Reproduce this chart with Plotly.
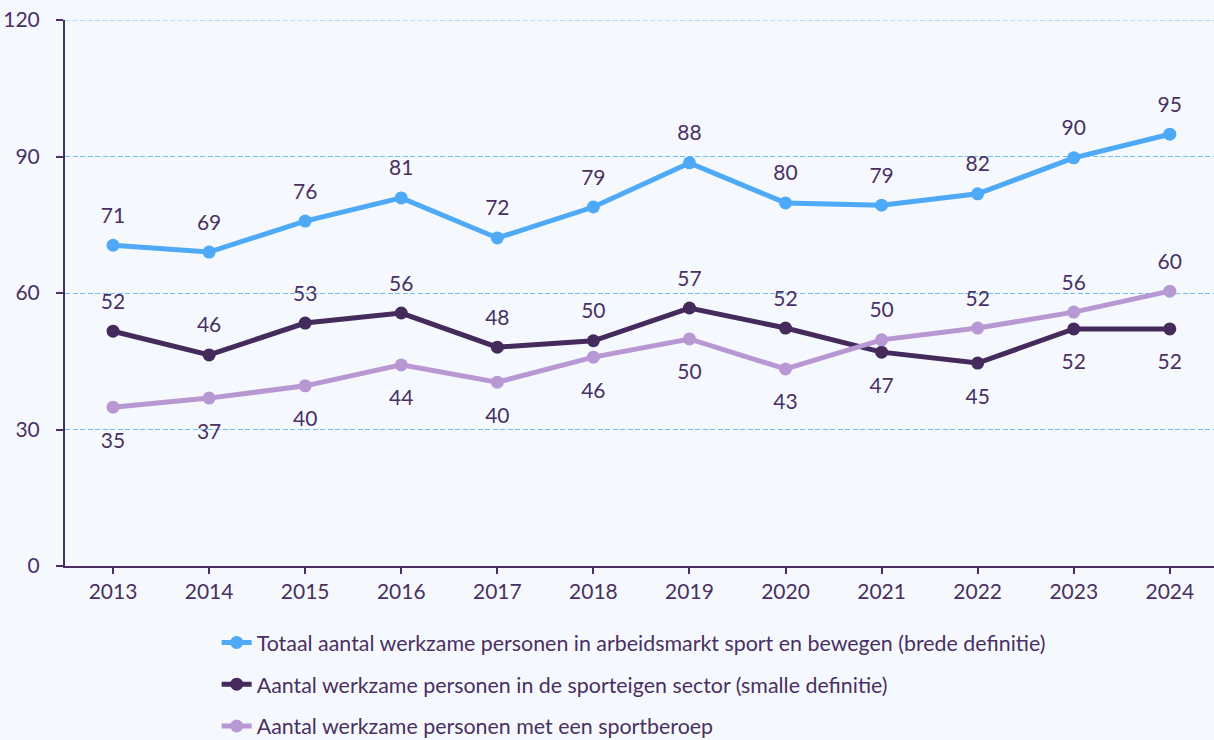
import plotly.graph_objects as go

years = ["2013", "2014", "2015", "2016", "2017", "2018", "2019", "2020", "2021", "2022", "2023", "2024"]
totaal = [70.5, 69.0, 75.8, 80.9, 72.1, 78.9, 88.6, 79.8, 79.3, 81.8, 89.7, 94.9]
sporteigen = [51.6, 46.4, 53.4, 55.6, 48.1, 49.5, 56.7, 52.3, 47.0, 44.6, 52.1, 52.1]
sportberoep = [34.9, 36.9, 39.6, 44.2, 40.4, 45.9, 49.9, 43.3, 49.7, 52.3, 55.8, 60.4]

totaal_lbl = [71, 69, 76, 81, 72, 79, 88, 80, 79, 82, 90, 95]
sporteigen_lbl = [52, 46, 53, 56, 48, 50, 57, 52, 47, 45, 52, 52]
sportberoep_lbl = [35, 37, 40, 44, 40, 46, 50, 43, 50, 52, 56, 60]

y_ticks = [0, 30, 60, 90, 120]

# label placement
totaal_pos = ["top"] * 12
sporteigen_pos = ["top"] * 8 + ["bottom"] * 4
sportberoep_pos = ["bottom"] * 8 + ["top"] * 4

names = [
    "Totaal aantal werkzame personen in arbeidsmarkt sport en bewegen (brede definitie)",
    "Aantal werkzame personen in de sporteigen sector (smalle definitie)",
    "Aantal werkzame personen met een sportberoep",
]
colors = ["#4ea9f7", "#452a5c", "#b898d2"]
text_color = "#4a3062"
grid_color = "#6fc2f8"
bg = "#f5f9fe"
font_family = "Lato, 'Open Sans', sans-serif"

fig = go.Figure()
series = [(totaal, totaal_lbl, totaal_pos), (sporteigen, sporteigen_lbl, sporteigen_pos),
          (sportberoep, sportberoep_lbl, sportberoep_pos)]
for i, (vals, lbls, pos) in enumerate(series):
    fig.add_trace(go.Scatter(
        x=years, y=vals, mode="lines+markers", name=names[i],
        line=dict(color=colors[i], width=5),
        marker=dict(color=colors[i], size=13),
        legendgroup=str(i),
    ))
for i, (vals, lbls, pos) in enumerate(series):
    for side, msize in (("top", 26), ("bottom", 38)):
        fig.add_trace(go.Scatter(
            x=years,
            y=[v if p == side else None for v, p in zip(vals, pos)],
            mode="markers+text",
            text=[str(l) if p == side else "" for l, p in zip(lbls, pos)],
            textposition=side + " center", marker=dict(size=msize, opacity=0),
            textfont=dict(size=21, color=text_color, family=font_family),
            showlegend=False, hoverinfo="skip", cliponaxis=False,
        ))

# top gridline (plotly drops the gridline at the range edge)
fig.add_shape(type="line", xref="paper", x0=0, x1=1, yref="y", y0=y_ticks[-1], y1=y_ticks[-1],
              line=dict(color=grid_color, width=1, dash="5px,2.5px"), layer="below")

fig.update_layout(
    width=1214, height=740,
    margin=dict(l=65, r=0, t=20, b=174),
    paper_bgcolor=bg, plot_bgcolor=bg,
    font=dict(family=font_family, color=text_color, size=21),
    showlegend=True,
    legend=dict(
        orientation="v", xref="paper", x=0.132, xanchor="left",
        yref="container", y=0.1595, yanchor="top",
        font=dict(size=21.4, color=text_color, family=font_family),
        tracegroupgap=11, bgcolor="rgba(0,0,0,0)",
    ),
    xaxis=dict(
        type="category", range=[-0.5, 11.46],
        showline=True, linecolor=text_color, linewidth=2,
        ticks="outside", ticklen=6, tickcolor=text_color, tickwidth=2,
        showgrid=False, tickfont=dict(size=21, color=text_color),
    ),
    yaxis=dict(
        range=[0, 120], tickvals=y_ticks,
        showline=True, linecolor=text_color, linewidth=2,
        ticks="outside", ticklen=7, tickcolor=text_color, tickwidth=2,
        showgrid=True, gridcolor=grid_color, griddash="5px,2.5px", gridwidth=1,
        zeroline=False, tickfont=dict(size=21, color=text_color),
        ticklabelstandoff=12,
    ),
)

fig.write_html("out.html", config={"displayModeBar": False},
               post_script="document.body.style.margin='0px';")
